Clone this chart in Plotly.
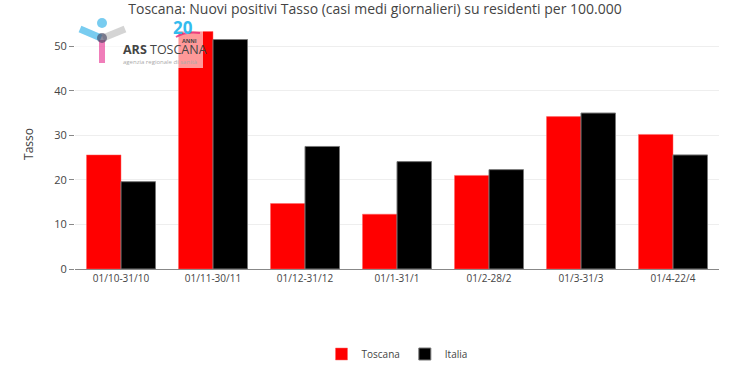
import plotly.graph_objects as go

categories = ["01/10-31/10", "01/11-30/11", "01/12-31/12", "01/1-31/1", "01/2-28/2", "01/3-31/3", "01/4-22/4"]
toscana = [25.6, 53.3, 14.7, 12.3, 21.0, 34.2, 30.2]
italia = [19.6, 51.5, 27.5, 24.1, 22.3, 35.0, 25.6]

W, H = 750, 375
L, R, T, B = 75, 31, 19, 106
PW, PH = W - L - R, H - T - B

def px(x):
    return (x - L) / PW

def py(y):
    return (H - B - y) / PH

fig = go.Figure()
fig.add_trace(go.Bar(name="Toscana", x=categories, y=toscana,
                     marker=dict(color="#ff0000", line=dict(color="#ff6666", width=0.5))))
fig.add_trace(go.Bar(name="Italia", x=categories, y=italia,
                     marker=dict(color="#000000", line=dict(color="#777777", width=1))))

shapes = [
    # semi-transparent logo background
    dict(type="rect", xref="paper", yref="paper", x0=px(74), x1=px(203), y0=py(68), y1=py(17),
         fillcolor="rgba(255,255,255,0.6)", line=dict(width=0), layer="above"),
    dict(type="line", xref="paper", yref="paper", x0=px(80), y0=py(29), x1=px(101), y1=py(38),
         line=dict(color="rgba(30,170,230,0.6)", width=7), layer="above"),
    dict(type="line", xref="paper", yref="paper", x0=px(103), y0=py(38), x1=px(125), y1=py(29),
         line=dict(color="rgba(170,170,170,0.5)", width=7), layer="above"),
    dict(type="line", xref="paper", yref="paper", x0=px(102), y0=py(40), x1=px(102), y1=py(63),
         line=dict(color="rgba(230,40,140,0.6)", width=6), layer="above"),
    dict(type="circle", xref="paper", yref="paper", x0=px(97), x1=px(107), y0=py(28), y1=py(18),
         fillcolor="rgba(30,170,230,0.6)", line=dict(width=0), layer="above"),
    dict(type="circle", xref="paper", yref="paper", x0=px(97), x1=px(107), y0=py(43), y1=py(33),
         fillcolor="rgba(60,60,90,0.6)", line=dict(width=0), layer="above"),
    # pink swoosh under "20"
    dict(type="path", xref="paper", yref="paper",
         path=f"M {px(176)},{py(37)} Q {px(186)},{py(31)} {px(200)},{py(33)}",
         line=dict(color="rgba(230,40,120,0.8)", width=2), layer="above"),
]

annotations = [
    dict(text="<b>ARS</b> TOSCANA", xref="paper", yref="paper", x=px(122), y=py(49), xanchor="left",
         yanchor="middle", showarrow=False, borderpad=0,
         font=dict(family="Open Sans", size=12.5, color="#444444")),
    dict(text="agenzia regionale di sanità", xref="paper", yref="paper", x=px(122), y=py(62),
         xanchor="left", yanchor="middle", showarrow=False, borderpad=0,
         font=dict(family="Open Sans", size=6, color="#aaaaaa")),
    dict(text="<b>20</b>", xref="paper", yref="paper", x=px(183), y=py(27), xanchor="center",
         yanchor="middle", showarrow=False, borderpad=0,
         font=dict(family="Open Sans", size=17, color="#33bbee")),
    dict(text="<b>ANNI</b>", xref="paper", yref="paper", x=px(189), y=py(41), xanchor="center",
         yanchor="middle", showarrow=False, borderpad=0,
         font=dict(family="Open Sans", size=5.5, color="#444444")),
]

fig.update_layout(
    width=W, height=H,
    margin=dict(l=L, r=R, t=T, b=B, autoexpand=False),
    paper_bgcolor="white", plot_bgcolor="white",
    font=dict(family="Open Sans", size=11, color="#444444"),
    title=dict(text="Toscana: Nuovi positivi Tasso (casi medi giornalieri) su residenti per 100.000",
               x=0.5, xref="container", y=1 - 9 / H, yref="container", yanchor="middle",
               font=dict(family="Open Sans", size=14, color="#444444"), automargin=False),
    barmode="group", bargap=0.25, bargroupgap=0,
    xaxis=dict(showline=True, linecolor="#888888", linewidth=1, tickfont=dict(size=10),
               automargin=False),
    yaxis=dict(title=dict(text="Tasso", font=dict(size=12), standoff=18), gridcolor="#eeeeee",
               zeroline=False, showline=False, tickvals=[0, 10, 20, 30, 40, 50], ticks="outside",
               ticklen=5, tickcolor="#888888", automargin=False),
    legend=dict(orientation="h", x=0.5, xanchor="center", y=-0.34, yanchor="middle",
                font=dict(size=10)),
    shapes=shapes, annotations=annotations,
)

fig.write_html("out.html", config={"displayModeBar": False},
               post_script="document.body.style.margin='0';")
